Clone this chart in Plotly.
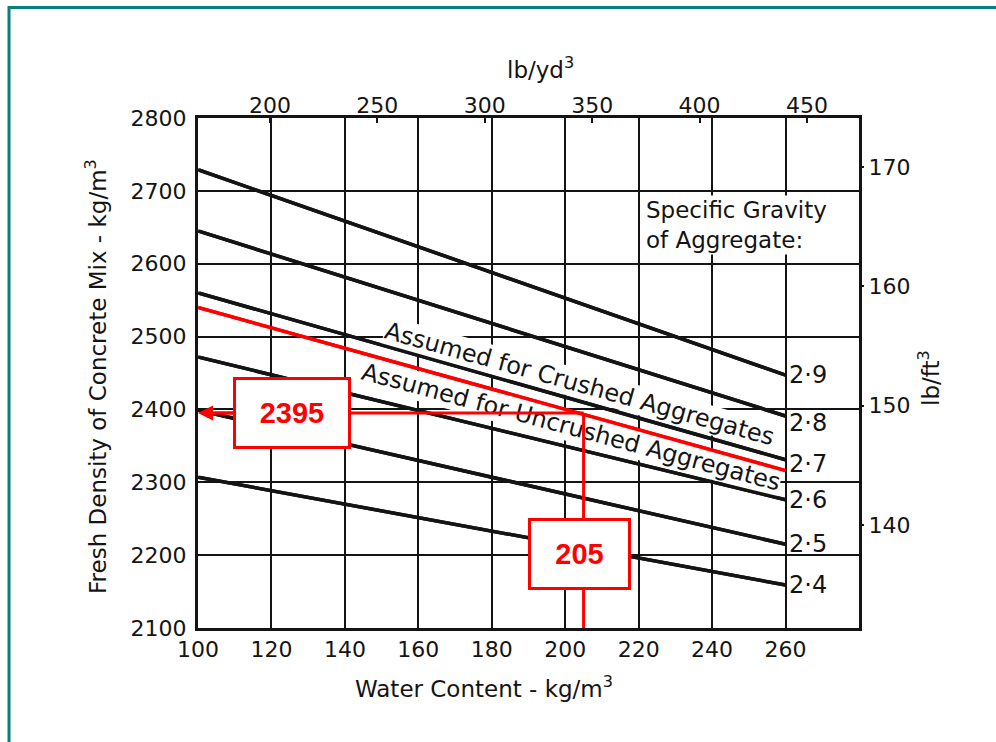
import plotly.graph_objects as go

# ---------------- data ----------------
water_ends = [100, 260]                      # water content, kg/m3
sg_labels = ["2·9", "2·8", "2·7", "2·6", "2·5", "2·4"]
density_at_100 = [2729, 2645, 2560, 2472, 2399, 2307]   # kg/m3
density_at_260 = [2447, 2391, 2331, 2276, 2215, 2159]   # kg/m3
red_line_density = [2540, 2316]              # red guide line at water 100 / 260
answer_water = 205
answer_density = 2395

x_ticks = [100, 120, 140, 160, 180, 200, 220, 240, 260]
y_ticks = [2100, 2200, 2300, 2400, 2500, 2600, 2700, 2800]
top_ticks = [200, 250, 300, 350, 400, 450]   # lb/yd3
right_ticks = [140, 150, 160, 170]           # lb/ft3

# ---------------- styling ----------------
FONT = "DejaVu Sans"
INK = "#141414"
RED = "#ff0000"
TEAL = "#0b7f7f"

L, R, T, B = 198, 859, 118, 628   # plot area in px
W, H = 996, 742


def px_x(p):
    return (p - L) / (R - L)


def px_y(p):
    return (B - p) / (B - T)


def seg(x0, y0, x1, y1, color, width):
    """A plain line drawn as an annotation arrow (data coordinates)."""
    return dict(x=x1, y=y1, ax=x0, ay=y0, xref="x", yref="y",
                axref="x", ayref="y", text="", showarrow=True,
                arrowhead=0, arrowwidth=width, arrowcolor=color,
                standoff=0, startstandoff=0)


fig = go.Figure()

for y0, y1 in zip(density_at_100, density_at_260):
    fig.add_trace(go.Scatter(x=water_ends, y=[y0, y1], mode="lines",
                             line=dict(color=INK, width=3.5),
                             showlegend=False, hoverinfo="skip"))
fig.add_trace(go.Scatter(x=water_ends, y=red_line_density, mode="lines",
                         line=dict(color=RED, width=3.5),
                         showlegend=False, hoverinfo="skip"))

annotations = []

# texts with white backgrounds (break the grid like the original print)
annotations.append(dict(x=221.5, y=2653, xref="x", yref="y",
                        text="Specific Gravity<br>of Aggregate:",
                        showarrow=False, xanchor="left", yanchor="middle",
                        align="left", bgcolor="white", borderpad=1,
                        font=dict(family=FONT, size=23, color=INK)))
annotations.append(dict(x=204, y=2435, xref="x", yref="y",
                        text="Assumed for Crushed Aggregates",
                        showarrow=False, textangle=15.5, bgcolor="white",
                        borderpad=0,
                        font=dict(family=FONT, size=24, color=INK)))
annotations.append(dict(x=201.5, y=2376, xref="x", yref="y",
                        text="Assumed for Uncrushed Aggregates",
                        showarrow=False, textangle=15, bgcolor="white",
                        borderpad=0,
                        font=dict(family=FONT, size=24, color=INK)))

# curves redrawn on top of the text backgrounds
for y0, y1 in zip(density_at_100, density_at_260):
    annotations.append(seg(water_ends[0], y0, water_ends[1], y1, INK, 3.5))
annotations.append(seg(water_ends[0], red_line_density[0],
                       water_ends[1], red_line_density[1], RED, 3.5))
# read-off lines
annotations.append(seg(104, answer_density, answer_water, answer_density, RED, 3))
annotations.append(seg(answer_water, answer_density, answer_water, 2100, RED, 3))

# arrow head at left axis
annotations.append(dict(x=100, y=answer_density, ax=112, ay=answer_density,
                        xref="x", yref="y", axref="x", ayref="y",
                        text="", showarrow=True, arrowhead=2, arrowsize=1,
                        arrowwidth=3, arrowcolor=RED))

# specific gravity labels at line ends
label_shift = [0, -7, -4, 0, 0, 0]
for lab, y1, sh in zip(sg_labels, density_at_260, label_shift):
    annotations.append(dict(x=260, y=y1, xref="x", yref="y", text=lab,
                            showarrow=False, xanchor="left", yanchor="middle",
                            xshift=1, yshift=sh,
                            font=dict(family=FONT, size=24, color=INK)))

# red value boxes
annotations.append(dict(x=125.7, y=answer_density, xref="x", yref="y",
                        text="<b>%d</b>" % answer_density, showarrow=False,
                        width=108, height=62, borderpad=2, borderwidth=3,
                        bordercolor=RED, bgcolor="white",
                        font=dict(family="Liberation Sans", size=29, color=RED)))
annotations.append(dict(x=answer_water - 1, y=2202, xref="x", yref="y",
                        text="<b>%d</b>" % answer_water, showarrow=False,
                        width=93, height=62, borderpad=2, borderwidth=3,
                        bordercolor=RED, bgcolor="white",
                        font=dict(family="Liberation Sans", size=29, color=RED)))

# axis titles
title_font = dict(family=FONT, size=23, color=INK)
annotations.append(dict(x=px_x(484), y=px_y(687), xref="paper", yref="paper",
                        xanchor="center", yanchor="middle",
                        text="Water Content - kg/m<sup>3</sup>", showarrow=False,
                        font=title_font))
annotations.append(dict(x=px_x(540), y=px_y(68), xref="paper", yref="paper",
                        xanchor="center", yanchor="middle",
                        text="lb/yd<sup>3</sup>", showarrow=False, font=title_font))
annotations.append(dict(x=px_x(96), y=px_y(377), xref="paper", yref="paper",
                        xanchor="center", yanchor="middle",
                        text="Fresh Density of Concrete Mix - kg/m<sup>3</sup>",
                        showarrow=False, textangle=-90, font=title_font))
annotations.append(dict(x=px_x(929), y=px_y(378), xref="paper", yref="paper",
                        xanchor="center", yanchor="middle",
                        text="lb/ft<sup>3</sup>", showarrow=False, textangle=-90,
                        font=title_font))

shapes = [
    dict(type="line", xref="paper", yref="paper",
         x0=px_x(9), x1=px_x(9), y0=px_y(6), y1=px_y(H + 5),
         line=dict(color=TEAL, width=3)),
    dict(type="line", xref="paper", yref="paper",
         x0=px_x(8), x1=px_x(W + 5), y0=px_y(7.5), y1=px_y(7.5),
         line=dict(color=TEAL, width=3)),
]

tick_font = dict(family=FONT, size=22, color=INK)

fig.update_layout(
    width=W, height=H,
    margin=dict(l=L, r=W - R, t=T, b=H - B, pad=0),
    paper_bgcolor="white", plot_bgcolor="white",
    showlegend=False,
    annotations=annotations, shapes=shapes,
    xaxis=dict(range=[100, 280], tickvals=x_ticks, ticks="",
               showgrid=True, gridcolor=INK, gridwidth=2,
               showline=True, mirror=True, linecolor=INK, linewidth=3,
               zeroline=False, tickfont=tick_font, ticklabelstandoff=0),
    yaxis=dict(range=[2100, 2800], tickvals=y_ticks, ticks="",
               showgrid=True, gridcolor=INK, gridwidth=2,
               showline=True, mirror=True, linecolor=INK, linewidth=3,
               zeroline=False, tickfont=tick_font, ticklabelstandoff=4),
    xaxis2=dict(overlaying="x", side="top", anchor="y",
                range=[166.5, 474.2], tickvals=top_ticks,
                ticks="inside", ticklen=5, tickwidth=2, tickcolor=INK,
                showgrid=False, zeroline=False, showline=False,
                tickfont=tick_font),
    yaxis2=dict(overlaying="y", side="right", anchor="x",
                range=[131.37, 174.1], tickvals=right_ticks,
                ticks="outside", ticklen=4, tickwidth=2, tickcolor=INK,
                showgrid=False, zeroline=False, showline=False,
                tickfont=tick_font),
)

# invisible trace binding the secondary axes (converted from the same data)
fig.add_trace(go.Scatter(x=[w * 1.6856 for w in water_ends],
                         y=[density_at_100[0] * 0.062428, density_at_260[0] * 0.062428],
                         xaxis="x2", yaxis="y2", mode="lines",
                         line=dict(width=0), opacity=0,
                         showlegend=False, hoverinfo="skip"))

fig.write_html("out.html")
